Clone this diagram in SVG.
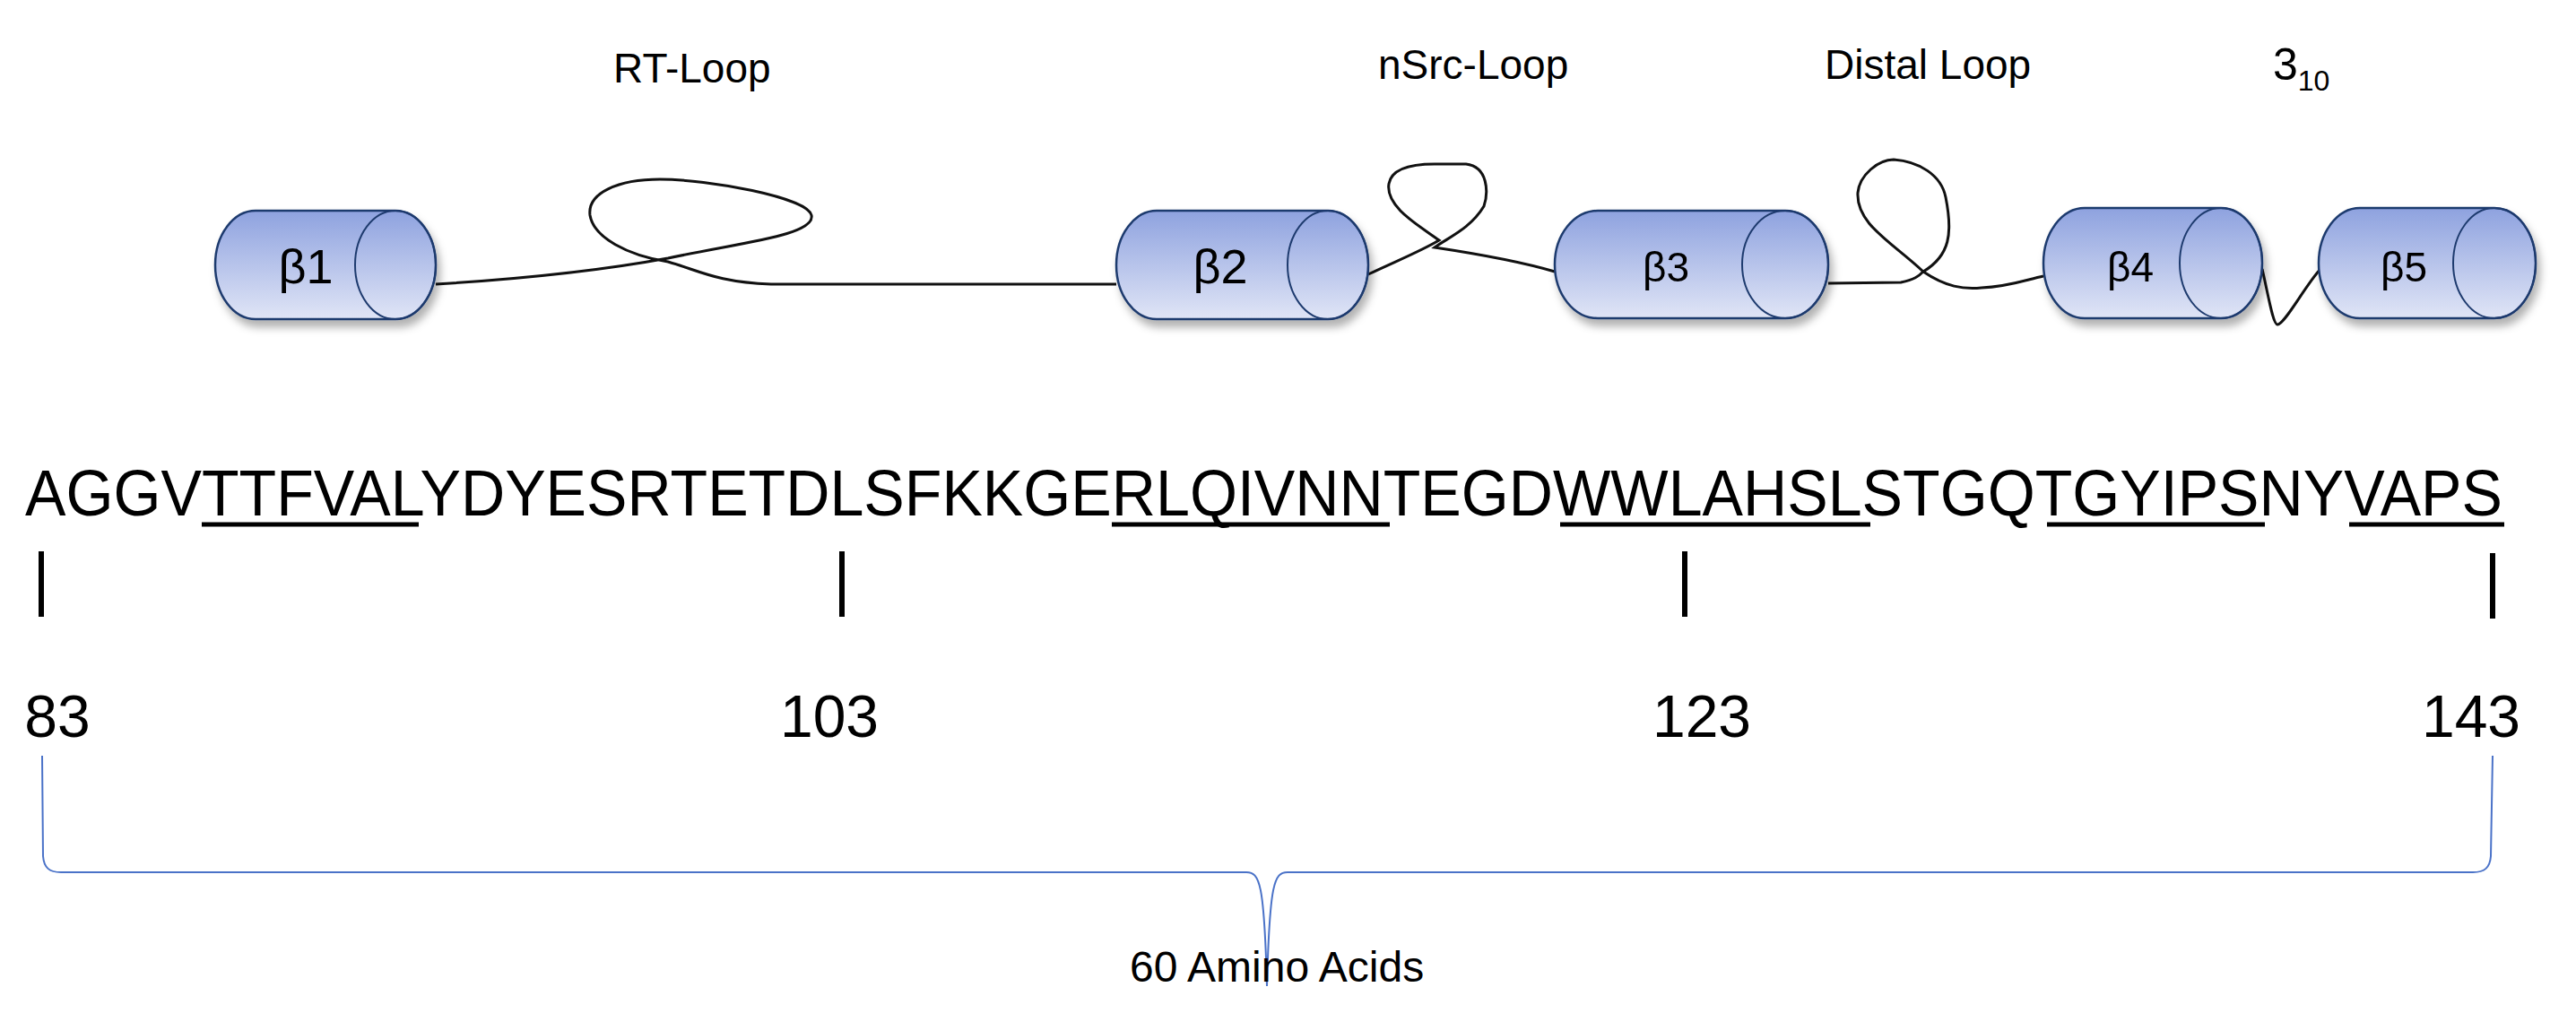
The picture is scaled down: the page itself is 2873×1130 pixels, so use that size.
<svg xmlns="http://www.w3.org/2000/svg" width="2873" height="1130" viewBox="0 0 2873 1130">
<style>
text{font-family:"Liberation Sans",Arial,sans-serif;fill:#000}
.lbl{font-size:46px}
.cyl{fill:url(#g);stroke:#1f3a6e;stroke-width:2.5}
.end{fill:none;stroke:#1f3a6e;stroke-width:2}
.beta{font-size:46px;text-anchor:middle}
.loop{fill:none;stroke:#111;stroke-width:3}
.tick{stroke:#000;stroke-width:6}
.ul{stroke:#000;stroke-width:5}
.num{font-size:66px;text-anchor:middle}
.brace{fill:none;stroke:#4a72c8;stroke-width:2}
</style>
<defs>
<linearGradient id="g" x1="0" y1="0" x2="0" y2="1">
<stop offset="0" stop-color="#8ea2df"/>
<stop offset="1" stop-color="#e0e5f6"/>
</linearGradient>
<filter id="sh" x="-10%" y="-10%" width="130%" height="140%">
<feDropShadow dx="4" dy="8" stdDeviation="5" flood-color="#000" flood-opacity="0.3"/>
</filter>
</defs>
<text class="lbl" x="684" y="92">RT-Loop</text>
<text class="lbl" x="1537" y="88">nSrc-Loop</text>
<text class="lbl" x="2035" y="88">Distal Loop</text>
<text x="2535" y="89" style="font-size:50px">3<tspan dy="12" style="font-size:32px">10</tspan></text>
<g id="connectors">
<path class="loop" d="M486,317 C600,310 680,300 745,288 C830,270 910,262 905,240 C900,220 790,200 736,200 C690,200 655,215 658,240 C662,265 700,285 745,292 C780,302 800,315 860,317 L1245,317"/>
<path class="loop" d="M1526,306 C1560,290 1585,280 1605,268 C1580,250 1545,230 1549,205 C1552,188 1575,183 1600,183 L1635,183 C1660,186 1660,215 1655,230 C1640,255 1615,265 1600,276 C1640,282 1690,290 1734,303"/>
<path class="loop" d="M2039,316 L2120,315 C2135,312 2140,308 2145,303 C2110,270 2070,250 2072,215 C2074,195 2095,178 2112,178 C2140,180 2165,195 2170,220 C2178,260 2175,285 2145,303 C2170,320 2190,323 2210,321 C2240,320 2260,312 2279,308"/>
<path class="loop" d="M2523,300 C2530,330 2535,362 2540,362 C2548,362 2570,320 2588,300"/>
</g>
<g id="b1" filter="url(#sh)"><path class="cyl" d="M285,235 L441,235 A45,60.5 0 0 1 441,356 L285,356 A45,60.5 0 0 1 285,235 Z"/><ellipse class="end" cx="441" cy="295.5" rx="45" ry="60.5"/><text class="beta" x="341" y="316" style="font-size:54px">β1</text></g>
<g id="b2" filter="url(#sh)"><path class="cyl" d="M1290,235 L1481,235 A45,60.5 0 0 1 1481,356 L1290,356 A45,60.5 0 0 1 1290,235 Z"/><ellipse class="end" cx="1481" cy="295.5" rx="45" ry="60.5"/><text class="beta" x="1361" y="316" style="font-size:54px">β2</text></g>
<g id="b3" filter="url(#sh)"><path class="cyl" d="M1782,235 L1991,235 A48,60 0 0 1 1991,355 L1782,355 A48,60 0 0 1 1782,235 Z"/><ellipse class="end" cx="1991" cy="295" rx="48" ry="60"/><text class="beta" x="1858" y="314">β3</text></g>
<g id="b4" filter="url(#sh)"><path class="cyl" d="M2325,232 L2477,232 A46,61.5 0 0 1 2477,355 L2325,355 A46,61.5 0 0 1 2325,232 Z"/><ellipse class="end" cx="2477" cy="293.5" rx="46" ry="61.5"/><text class="beta" x="2376" y="314">β4</text></g>
<g id="b5" filter="url(#sh)"><path class="cyl" d="M2632,232 L2782,232 A46,61.5 0 0 1 2782,355 L2632,355 A46,61.5 0 0 1 2632,232 Z"/><ellipse class="end" cx="2782" cy="293.5" rx="46" ry="61.5"/><text class="beta" x="2681" y="314">β5</text></g>
<text x="28" y="575" style="font-size:72px" textLength="2763" lengthAdjust="spacingAndGlyphs">AGGVTTFVALYDYESRTETDLSFKKGERLQIVNNTEGDWWLAHSLSTGQTGYIPSNYVAPS</text>
<line class="ul" x1="225" y1="585" x2="467" y2="585"/>
<line class="ul" x1="1240" y1="585" x2="1550" y2="585"/>
<line class="ul" x1="1740" y1="585" x2="2086" y2="585"/>
<line class="ul" x1="2283" y1="585" x2="2526" y2="585"/>
<line class="ul" x1="2620" y1="585" x2="2793" y2="585"/>
<line class="tick" x1="46" y1="615" x2="46" y2="688"/>
<line class="tick" x1="939" y1="615" x2="939" y2="688"/>
<line class="tick" x1="1879" y1="615" x2="1879" y2="688"/>
<line class="tick" x1="2780" y1="617" x2="2780" y2="690"/>
<text class="num" x="64" y="822">83</text>
<text class="num" x="925" y="822">103</text>
<text class="num" x="1898" y="822">123</text>
<text class="num" x="2756" y="822">143</text>
<path class="brace" d="M47,843 L48,955 C49,968 55,973 68,973 L1390,973 C1405,973 1410,985 1413,1100 C1416,985 1421,973 1436,973 L2758,973 C2771,973 2777,968 2778,955 L2780,843"/>
<text x="1260" y="1095" style="font-size:48px">60 Amino Acids</text>
</svg>
